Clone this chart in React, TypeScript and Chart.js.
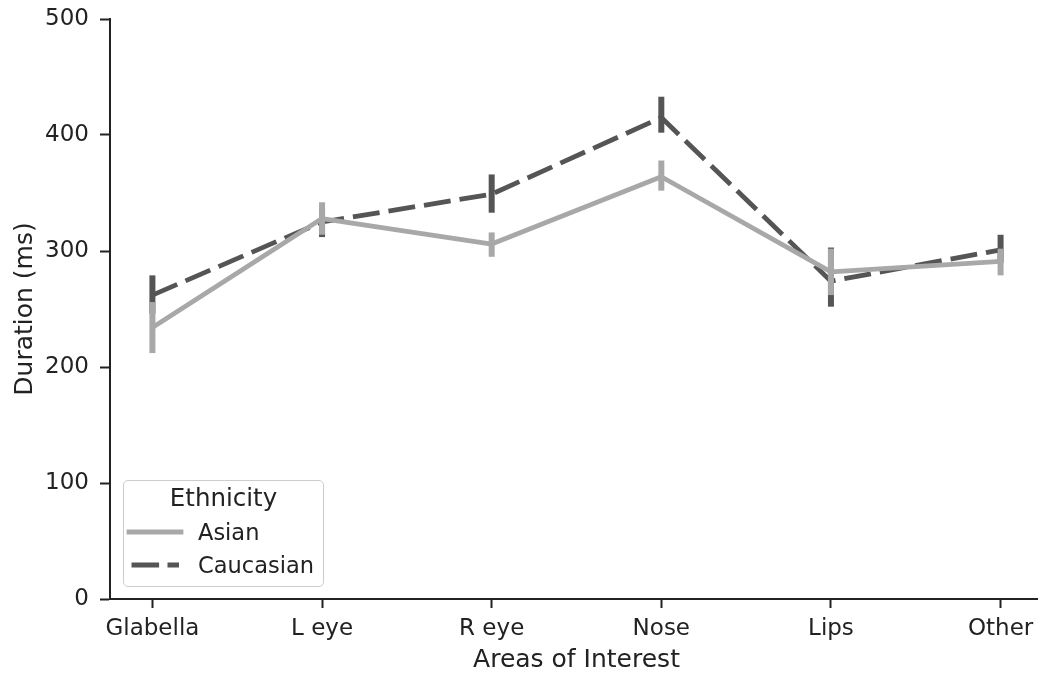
import React, { useEffect, useRef } from "react";
import { Chart, registerables } from "chart.js";

Chart.register(...registerables);

const categories = ["Glabella", "L eye", "R eye", "Nose", "Lips", "Other"];
const asianMean = [234, 328, 306, 364, 282, 291];
const asianLow = [212, 314, 295, 352, 262, 279];
const asianHigh = [256, 342, 316, 378, 302, 302];
const caucasianMean = [262, 325, 349, 415, 274, 301];
const caucasianLow = [246, 312, 333, 402, 252, 290];
const caucasianHigh = [279, 336, 366, 433, 303, 314];
const yTicks = [0, 100, 200, 300, 400, 500];

const ASIAN = "#a8a8a8";
const CAUC = "#555555";
const TEXT = "#222222";
const FONT = "'DejaVu Sans', sans-serif";

const lows = [asianLow, caucasianLow];
const highs = [asianHigh, caucasianHigh];

const errorBarPlugin = {
  id: "errorBars",
  afterDatasetDraw(chart: any, args: any) {
    const i = args.index;
    const ds = chart.data.datasets[i];
    const x = chart.scales.x;
    const y = chart.scales.y;
    const ctx = chart.ctx;
    ctx.save();
    ctx.strokeStyle = ds.borderColor;
    ctx.lineWidth = 6;
    ctx.lineCap = "butt";
    ctx.setLineDash([]);
    categories.forEach((_, k) => {
      const px = x.getPixelForValue(k);
      ctx.beginPath();
      ctx.moveTo(px, y.getPixelForValue(lows[i][k]));
      ctx.lineTo(px, y.getPixelForValue(highs[i][k]));
      ctx.stroke();
    });
    ctx.restore();
  },
};

export default function App() {
  const ref = useRef<HTMLCanvasElement>(null);
  useEffect(() => {
    if (!ref.current) return;
    const chart = new Chart(ref.current, {
      type: "line",
      data: {
        datasets: [
          {
            label: "Asian",
            data: asianMean.map((v, i) => ({ x: i, y: v })),
            borderColor: ASIAN,
            backgroundColor: ASIAN,
            borderWidth: 4.8,
            pointRadius: 0,
            borderJoinStyle: "round",
            tension: 0,
          },
          {
            label: "Caucasian",
            data: caucasianMean.map((v, i) => ({ x: i, y: v })),
            borderColor: CAUC,
            backgroundColor: CAUC,
            borderWidth: 4.8,
            borderDash: [27, 9],
            pointRadius: 0,
            borderJoinStyle: "round",
            tension: 0,
          },
        ],
      },
      options: {
        responsive: false,
        animation: false,
        layout: { padding: { top: 19, right: 3, left: 0, bottom: 0 } },
        plugins: { legend: { display: false }, tooltip: { enabled: false } },
        scales: {
          x: {
            type: "linear",
            min: -0.25,
            max: 5.25,
            afterBuildTicks: (axis: any) => {
              axis.ticks = categories.map((_, i) => ({ value: i }));
            },
            afterFit: (s: any) => {
              s.height = 78;
              s.paddingLeft = 0;
              s.paddingRight = 0;
            },
            ticks: {
              callback: (v: any) => categories[v] ?? "",
              font: { family: FONT, size: 23 },
              color: TEXT,
              padding: 7,
              maxRotation: 0,
              autoSkip: false,
            },
            grid: {
              drawOnChartArea: false,
              drawTicks: true,
              tickLength: 9,
              tickWidth: 2,
              tickColor: TEXT,
            },
            border: { display: true, color: TEXT, width: 2 },
            title: {
              display: true,
              text: "Areas of Interest",
              font: { family: FONT, size: 25 },
              color: TEXT,
              padding: { top: 0, bottom: 2 },
            },
          },
          y: {
            type: "linear",
            min: 0,
            max: 500,
            afterBuildTicks: (axis: any) => {
              axis.ticks = yTicks.map((v) => ({ value: v }));
            },
            afterFit: (s: any) => {
              s.width = 110;
              s.paddingTop = 0;
              s.paddingBottom = 0;
            },
            ticks: {
              font: { family: FONT, size: 23 },
              color: TEXT,
              padding: 11,
            },
            grid: {
              drawOnChartArea: false,
              drawTicks: true,
              tickLength: 10,
              tickWidth: 2,
              tickColor: TEXT,
            },
            border: { display: true, color: TEXT, width: 2 },
            title: {
              display: true,
              text: "Duration (ms)",
              font: { family: FONT, size: 25 },
              color: TEXT,
              padding: { top: 10, bottom: 0 },
            },
          },
        },
      },
      plugins: [errorBarPlugin],
    } as any);
    return () => chart.destroy();
  }, []);

  const legendText: React.CSSProperties = {
    position: "absolute",
    fontFamily: FONT,
    fontSize: 22.5,
    lineHeight: "26px",
    color: TEXT,
    whiteSpace: "nowrap",
  };

  return (
    <div
      style={{
        position: "fixed",
        left: 0,
        top: 0,
        width: 1038,
        height: 677,
        overflow: "hidden",
        background: "#fff",
      }}
    >
      <canvas ref={ref} width={1046} height={677} style={{ position: "absolute", left: 0, top: 0 }} />
      <div
        style={{
          position: "absolute",
          left: 123,
          top: 480,
          width: 201,
          height: 107,
          border: "1px solid #cccccc",
          borderRadius: 5,
          background: "rgba(255,255,255,0.8)",
          boxSizing: "border-box",
        }}
      >
        <div style={{ ...legendText, fontSize: 24.5, left: 0, width: "100%", textAlign: "center", top: 4 }}>Ethnicity</div>
        <svg style={{ position: "absolute", left: 0, top: 0 }} width={80} height={107}>
          <line x1={5} y1={51} x2={57} y2={51} stroke={ASIAN} strokeWidth={4.8} strokeLinecap="square" />
          <line x1={7.5} y1={84} x2={55} y2={84} stroke={CAUC} strokeWidth={4.8} strokeDasharray="27.6 8.4" />
        </svg>
        <div style={{ ...legendText, left: 74, top: 38 }}>Asian</div>
        <div style={{ ...legendText, left: 74, top: 71 }}>Caucasian</div>
      </div>
    </div>
  );
}
